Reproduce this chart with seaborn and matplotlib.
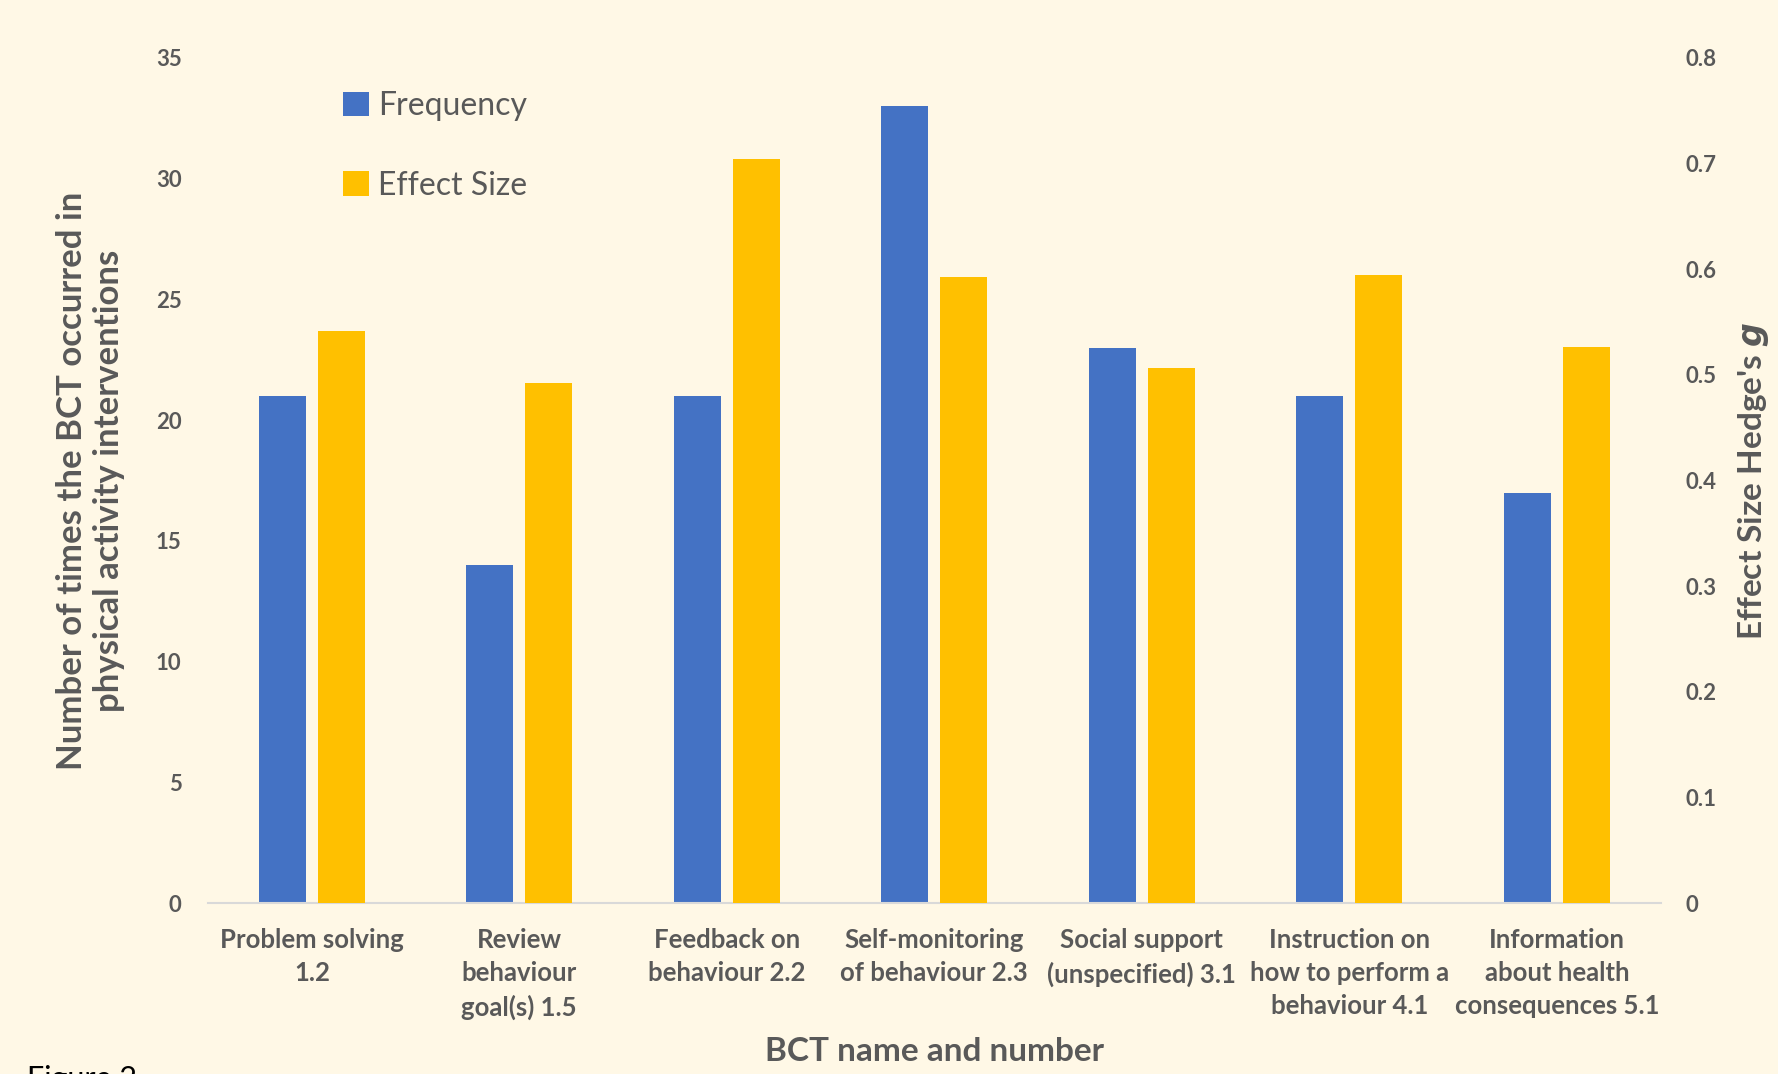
import matplotlib.pyplot as plt
import numpy as np
import pandas as pd
import seaborn as sns
from matplotlib.patches import Patch

# data
bcts = [
    "Problem solving\n1.2",
    "Review\nbehaviour\ngoal(s) 1.5",
    "Feedback on\nbehaviour 2.2",
    "Self-monitoring\nof behaviour 2.3",
    "Social support\n(unspecified) 3.1",
    "Instruction on\nhow to perform a\nbehaviour 4.1",
    "Information\nabout health\nconsequences 5.1",
]
frequency = [21, 14, 21, 33, 23, 21, 17]
effect_size = [0.542, 0.492, 0.704, 0.593, 0.507, 0.595, 0.526]
series = ["Frequency", "Effect Size"]
freq_ticks = [0, 5, 10, 15, 20, 25, 30, 35]
eff_ticks = [0, 0.1, 0.2, 0.3, 0.4, 0.5, 0.6, 0.7, 0.8]

colors = {"Frequency": "#4472C4", "Effect Size": "#FFC000"}
bg = "#FFF8E6"
grey = "#595959"

sns.set_theme(style="white", rc={"axes.facecolor": bg, "figure.facecolor": bg,
                                 "savefig.facecolor": bg})
plt.rcParams["font.family"] = ["Lato", "DejaVu Sans"]

# long tables: each axis gets both hue levels so the dodge keeps its slot,
# the other series is left empty
nan = [np.nan] * len(bcts)
freq_df = pd.DataFrame({"BCT": bcts * 2, "value": frequency + nan,
                        "series": ["Frequency"] * len(bcts) + ["Effect Size"] * len(bcts)})
eff_df = pd.DataFrame({"BCT": bcts * 2, "value": nan + effect_size,
                       "series": ["Frequency"] * len(bcts) + ["Effect Size"] * len(bcts)})

fig = plt.figure(figsize=(17.78, 10.74), dpi=100)
ax = fig.add_axes([0.117, 0.159, 0.817, 0.787])
ax2 = ax.twinx()

sns.barplot(data=freq_df, x="BCT", y="value", hue="series", hue_order=series,
            order=bcts, palette=colors, width=0.568, gap=0.2, linewidth=0,
            saturation=1, errorbar=None, legend=False, ax=ax)
sns.barplot(data=eff_df, x="BCT", y="value", hue="series", hue_order=series,
            order=bcts, palette=colors, width=0.568, gap=0.2, linewidth=0,
            saturation=1, errorbar=None, legend=False, ax=ax2)

ax.set_ylim(0, 35)
ax.set_yticks(freq_ticks)
ax.set_yticklabels([str(t) for t in freq_ticks])
ax2.set_ylim(0, 0.8)
ax2.set_yticks(eff_ticks)
ax2.set_yticklabels(["0" if t == 0 else f"{t:.1f}" for t in eff_ticks])

for a in (ax, ax2):
    for s in a.spines.values():
        s.set_visible(False)
    a.tick_params(length=0)
    a.grid(False)
ax.spines["bottom"].set_visible(True)
ax.spines["bottom"].set_color("#D9D9D9")
ax.spines["bottom"].set_linewidth(1.5)

ax.tick_params(axis="y", labelsize=16, labelcolor=grey, pad=19)
ax2.tick_params(axis="y", labelsize=16, labelcolor=grey, pad=18)
ax.tick_params(axis="x", labelsize=18.5, labelcolor=grey, pad=18)
for lab in ax.get_yticklabels() + ax2.get_yticklabels() + ax.get_xticklabels():
    lab.set_fontweight("bold")
for lab in ax.get_xticklabels():
    lab.set_linespacing(1.45)
ax2.set_xlabel("")

ax.set_xlabel("BCT name and number", fontsize=24, fontweight="bold", color=grey,
              labelpad=12)
ax.set_ylabel("Number of times the BCT occurred in\nphysical activity interventions",
              fontsize=25, fontweight="bold", color=grey, labelpad=22)
ax2.set_ylabel("Effect Size Hedge's $\\boldsymbol{g}$", fontsize=24,
               fontweight="bold", color=grey, labelpad=14)

handles = [Patch(facecolor=colors[s], edgecolor="none", label=s) for s in series]
fig.legend(handles=handles, loc="upper left", bbox_to_anchor=(0.193, 0.915),
           frameon=False, fontsize=23, labelcolor=grey, handlelength=0.8,
           handleheight=0.8, handletextpad=0.3, labelspacing=1.55,
           borderpad=0, borderaxespad=0)

fig.text(0.015, 0.008, "Figure 2", fontsize=22, color="black", va="top", ha="left")

fig.savefig("out.png", dpi=100)
